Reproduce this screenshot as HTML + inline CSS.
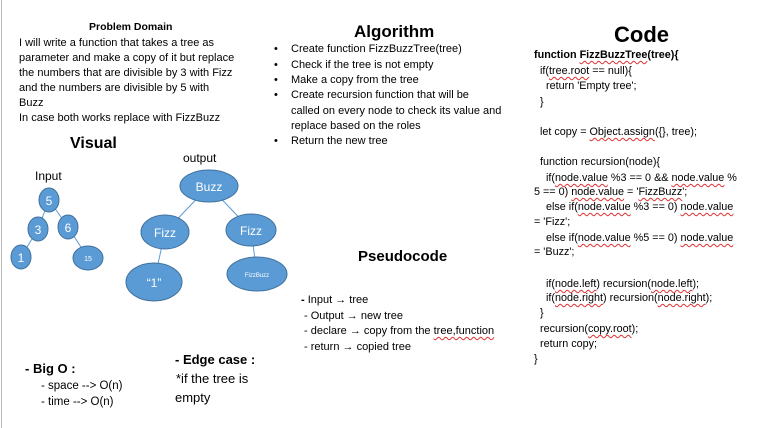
<!DOCTYPE html>
<html><head><meta charset="utf-8"><style>
body{margin:0;width:760px;height:428px;background:#fff;position:relative;overflow:hidden;font-family:"Liberation Sans",sans-serif;color:#000}
.t{position:absolute;white-space:nowrap;font-size:11px;line-height:13px}
.b{font-weight:bold}
.sq{text-decoration:underline wavy #e03030;text-decoration-thickness:1px;text-underline-offset:2px}
.c{font-size:10.8px}
</style></head><body>
<div style="position:absolute;left:1px;top:0;width:1px;height:428px;background:#bbb"></div>

<div class="t b" style="left:89px;top:21px;font-size:10.5px">Problem Domain</div>
<div class="t" style="left:19px;top:37px">I will write a function that takes a tree as</div>
<div class="t" style="left:19px;top:52px">parameter and make a copy of it but replace</div>
<div class="t" style="left:19px;top:67px">the numbers that are divisible by 3 with Fizz</div>
<div class="t" style="left:19px;top:82px">and the numbers are divisible by 5 with</div>
<div class="t" style="left:19px;top:97px">Buzz</div>
<div class="t" style="left:19px;top:112px">In case both works replace with FizzBuzz</div>

<div class="t b" style="left:354px;top:22px;font-size:17px;line-height:20px">Algorithm</div>
<div class="t" style="left:274px;top:43px">•</div><div class="t" style="left:291px;top:43px">Create function FizzBuzzTree(tree)</div>
<div class="t" style="left:274px;top:59px">•</div><div class="t" style="left:291px;top:59px">Check if the tree is not empty</div>
<div class="t" style="left:274px;top:74px">•</div><div class="t" style="left:291px;top:74px">Make a copy from the tree</div>
<div class="t" style="left:274px;top:89px">•</div><div class="t" style="left:291px;top:89px">Create recursion function that will be</div>
<div class="t" style="left:291px;top:105px">called on every node to check its value and</div>
<div class="t" style="left:291px;top:120px">replace based on the roles</div>
<div class="t" style="left:274px;top:135px">•</div><div class="t" style="left:291px;top:135px">Return the new tree</div>

<div class="t b" style="left:614px;top:22px;font-size:22px;line-height:26px">Code</div>
<div class="t b c" style="left:534px;top:49px">function <span class="sq">FizzBuzzTree</span>(tree){</div>
<div class="t c" style="left:540px;top:65px">if(<span class="sq">tree.root</span> == null){</div>
<div class="t c" style="left:546px;top:80px">return 'Empty tree';</div>
<div class="t c" style="left:540px;top:96px">}</div>
<div class="t c" style="left:540px;top:126px">let copy = <span class="sq">Object.assign</span>({}, tree);</div>
<div class="t c" style="left:540px;top:156px">function recursion(node){</div>
<div class="t c" style="left:546px;top:172px">if(<span class="sq">node.value</span> %3 == 0 &amp;&amp; <span class="sq">node.value</span> %</div>
<div class="t c" style="left:534px;top:186px">5 == 0) <span class="sq">node.value</span> = '<span class="sq">FizzBuzz</span>';</div>
<div class="t c" style="left:546px;top:201px">else if(<span class="sq">node.value</span> %3 == 0) <span class="sq">node.value</span></div>
<div class="t c" style="left:534px;top:216px">= 'Fizz';</div>
<div class="t c" style="left:546px;top:232px">else if(<span class="sq">node.value</span> %5 == 0) <span class="sq">node.value</span></div>
<div class="t c" style="left:534px;top:246px">= 'Buzz';</div>
<div class="t c" style="left:546px;top:278px">if(<span class="sq">node.left</span>) recursion(<span class="sq">node.left</span>);</div>
<div class="t c" style="left:546px;top:292px">if(<span class="sq">node.right</span>) recursion(<span class="sq">node.right</span>);</div>
<div class="t c" style="left:540px;top:307px">}</div>
<div class="t c" style="left:540px;top:323px">recursion(<span class="sq">copy.root</span>);</div>
<div class="t c" style="left:540px;top:338px">return copy;</div>
<div class="t c" style="left:534px;top:353px">}</div>

<div class="t b" style="left:70px;top:134px;font-size:16px;line-height:20px">Visual</div>
<div class="t" style="left:35px;top:169px;font-size:12px;line-height:14px">Input</div>
<div class="t" style="left:183px;top:151px;font-size:12px;line-height:14px">output</div>

<svg style="position:absolute;left:0;top:0" width="760" height="428">
<g stroke="#5b9bd5" stroke-width="1">
<line x1="49" y1="200" x2="38" y2="229"/><line x1="49" y1="200" x2="68" y2="227"/>
<line x1="38" y1="229" x2="21" y2="257"/><line x1="68" y1="227" x2="88" y2="258"/>
<line x1="209" y1="186" x2="165" y2="232"/><line x1="209" y1="186" x2="251" y2="230"/>
<line x1="165" y1="232" x2="154" y2="282"/><line x1="251" y1="230" x2="257" y2="274"/>
</g>
<g fill="#5b9bd5" stroke="#41719c" stroke-width="1">
<ellipse cx="49" cy="200" rx="10" ry="12"/><ellipse cx="38" cy="229" rx="10" ry="12"/>
<ellipse cx="68" cy="227" rx="10" ry="12"/><ellipse cx="21" cy="257" rx="10" ry="12"/>
<ellipse cx="88" cy="258" rx="15" ry="12"/>
<ellipse cx="209" cy="186" rx="29" ry="16"/><ellipse cx="165" cy="232" rx="24" ry="17"/>
<ellipse cx="251" cy="230" rx="25" ry="16"/><ellipse cx="154" cy="282" rx="28" ry="19"/>
<ellipse cx="257" cy="274" rx="30" ry="17"/>
</g>
<g fill="#fff" font-family="Liberation Sans,sans-serif" text-anchor="middle">
<text x="49" y="205" font-size="12">5</text><text x="38" y="234" font-size="12">3</text>
<text x="68" y="232" font-size="12">6</text><text x="21" y="262" font-size="12">1</text>
<text x="88" y="261" font-size="7">15</text>
<text x="209" y="191" font-size="12">Buzz</text><text x="165" y="237" font-size="12">Fizz</text>
<text x="251" y="235" font-size="12">Fizz</text><text x="154" y="287" font-size="12">“1”</text>
<text x="257" y="277" font-size="6">FizzBuzz</text>
</g>
</svg>

<div class="t b" style="left:358px;top:248px;font-size:15px;line-height:18px">Pseudocode</div>
<div class="t" style="left:301px;top:294px"><b>-</b> Input → tree</div>
<div class="t" style="left:304px;top:310px">- Output → new tree</div>
<div class="t" style="left:304px;top:325px">- declare → copy from the <span class="sq">tree,function</span></div>
<div class="t" style="left:304px;top:341px">- return → copied tree</div>

<div class="t b" style="left:25px;top:361px;font-size:13px;line-height:16px">- Big O :</div>
<div class="t" style="left:41px;top:380px;font-size:11.5px;line-height:13px">- space --&gt; O(n)</div>
<div class="t" style="left:41px;top:396px;font-size:11.5px;line-height:13px">- time --&gt; O(n)</div>

<div class="t b" style="left:175px;top:352px;font-size:13px;line-height:16px">- Edge case :</div>
<div class="t" style="left:176px;top:371px;font-size:13px;line-height:16px">*if the tree is</div>
<div class="t" style="left:175px;top:390px;font-size:13px;line-height:16px">empty</div>
</body></html>
